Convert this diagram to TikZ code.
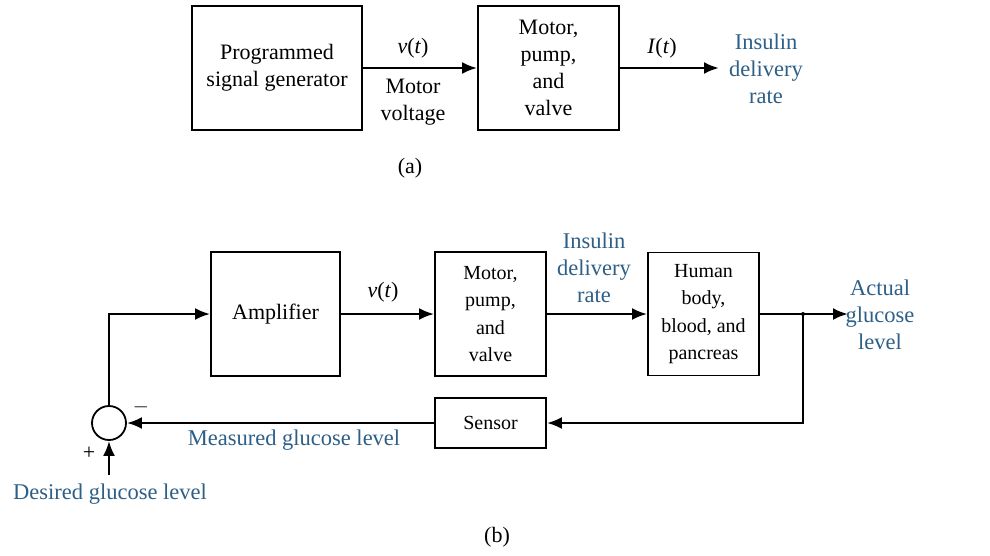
\documentclass[tikz,border=0pt]{standalone}
\usepackage{fontspec}
\setmainfont{Liberation Serif}
\usetikzlibrary{arrows.meta}
\definecolor{lblue}{RGB}{45,95,135}
\begin{document}
\begin{tikzpicture}[x=1pt,y=-1pt,
  txt/.style={font=\fontsize{22}{27}\selectfont, align=center, inner sep=0pt},
  sml/.style={font=\fontsize{20}{27.5}\selectfont},
  blk/.style={txt, draw, line width=1.8pt, minimum width=#1},
  blk/.default=111pt,
  lbl/.style={txt, text=lblue, font=\fontsize{22.5}{27}\selectfont},
  sig/.style={line width=2.6pt, -{Latex[length=15pt,width=12pt]}},
  ln/.style={line width=2.6pt}]
\useasboundingbox (0,0) rectangle (990,555);
% (a)
\node[blk=170pt, minimum height=124pt] (pg) at (277,68) {Programmed\\signal generator};
\node[blk=141pt, minimum height=124pt] (mpa) at (548.5,68) {Motor,\\pump,\\and\\valve};
\node[txt] (vta) at (413,48) {\textit{v}(\textit{t})};
\node[txt] (mv) at (413,102) {Motor\\voltage};
\node[txt] (ita) at (662,48) {\textit{I}(\textit{t})};
\node[lbl] (ida) at (766,69) {Insulin\\delivery\\rate};
\coordinate (ea) at (719,68);
\draw[sig] (pg.east) -- (pg.east -| mpa.west);
\draw[sig] (mpa.east) -- (ea);
\node[txt] (capa) at (410,168) {(a)};
% (b)
\node[blk=129pt, minimum height=124pt] (amp) at (275.5,314) {Amplifier};
\node[blk, sml, minimum height=124pt] (mpb) at (490.5,314) {Motor,\\pump,\\and\\valve};
\node[blk, sml, minimum height=123pt] (hb) at (703.5,314) {Human\\body,\\blood, and\\pancreas};
\node[blk, sml, minimum height=50pt] (sen) at (490.5,423) {Sensor};
\node[draw, circle, line width=1.8pt, minimum size=34pt, inner sep=0pt] (sum) at (109,423) {};
\node[txt] (vtb) at (383,292) {\textit{v}(\textit{t})};
\node[lbl] (idb) at (594,268) {Insulin\\delivery\\rate};
\node[lbl] (agl) at (880,315) {Actual\\glucose\\level};
\node[lbl] (mgl) at (294,440) {Measured glucose level};
\node[lbl] (dgl) at (110,494) {Desired glucose level};
\node[txt] (minus) at (141,407) {$-$};
\node[txt] (plus) at (89,453) {+};
\coordinate (jn) at (803,314);
\coordinate (eb) at (848,314);
\coordinate (ds) at (109,475);
\draw[sig] (amp.east) -- (mpb.west);
\draw[sig] (mpb.east) -- (hb.west);
\draw[sig] (hb.east) -- (eb);
\fill (jn) circle (2pt);
\draw[sig] (jn) |- (sen.east);
\draw[sig] (sen.west) -- (sum.east);
\draw[sig] (sum.north) |- (amp.west);
\draw[sig] (ds) -- (sum.south);
\node[txt] (capb) at (497,537) {(b)};
\end{tikzpicture}
\end{document}
